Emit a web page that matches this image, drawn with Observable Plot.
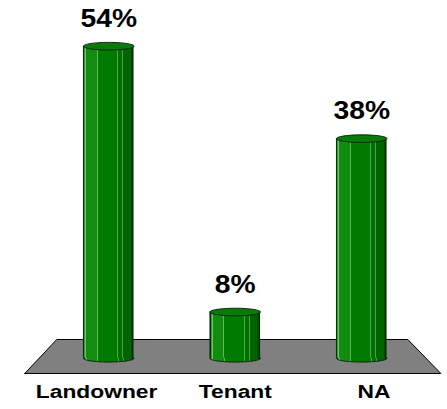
<!DOCTYPE html>
<html>
<head>
<meta charset="utf-8">
<script src="https://cdn.jsdelivr.net/npm/d3@7"></script>
<script src="https://cdn.jsdelivr.net/npm/@observablehq/plot@0.6"></script>
<style>
  body { margin: 0; background: #fff; }
</style>
</head>
<body>
<div id="chart"></div>
<script>
// Data
const categories = ["Landowner", "Tenant", "NA"];
const values = [54, 8, 38];
const valueLabels = ["54%", "8%", "38%"];

// Floor (in x-index / y-value units)
const floorX = [-0.664, -0.411, 2.364, 2.625, -0.664];
const floorY = [-2.63, 3.25, 3.25, -2.63, -2.63];

const data = categories.map((c, i) => ({ i, category: c, value: values[i], label: valueLabels[i] }));
const floor = floorX.map((x, k) => ({ x, y: floorY[k] }));

// Category labels sit under the front edge of the floor, split in equal thirds
const frontLeft = floorX[0], frontRight = floorX[3];
const labelX = i => frontLeft + (i + 0.5) * (frontRight - frontLeft) / categories.length + 0.02;

const W = 447, H = 409;
const mL = 45, mR = 22.5, mT = 11, mB = 5;
const xDomain = [-0.5, 2.5];
const barHalf = 0.2;
const rPx = barHalf * (W - mL - mR) / (xDomain[1] - xDomain[0]);

// Ellipse symbol
const ellipse = {
  draw(ctx, size) {
    const rx = Math.sqrt(size / Math.PI), ry = rx * 0.15, k = 0.5523;
    ctx.moveTo(-rx, 0);
    ctx.bezierCurveTo(-rx, -ry * k, -rx * k, -ry, 0, -ry);
    ctx.bezierCurveTo(rx * k, -ry, rx, -ry * k, rx, 0);
    ctx.bezierCurveTo(rx, ry * k, rx * k, ry, 0, ry);
    ctx.bezierCurveTo(-rx * k, ry, -rx, ry * k, -rx, 0);
    ctx.closePath();
  }
};

const font = "'Liberation Sans', Arial, Helvetica, sans-serif";

const chart = Plot.plot({
  width: W,
  height: H,
  marginLeft: mL,
  marginRight: mR,
  marginTop: mT,
  marginBottom: mB,
  x: { domain: xDomain, axis: null },
  y: { domain: [-8, 60], axis: null },
  style: { background: "#fff", fontFamily: font },
  marks: [
    Plot.line(floor, { x: "x", y: "y", fill: "#808080", stroke: "#000", strokeWidth: 1, curve: "linear" }),
    Plot.dot(data, { x: "i", y: 0, r: rPx, symbol: ellipse, fill: "url(#cyl)", stroke: "#0a2a0a", strokeWidth: 1 }),
    Plot.rectY(data, { x1: d => d.i - barHalf, x2: d => d.i + barHalf, y1: 0, y2: "value", fill: "url(#cyl)" }),
    Plot.dot(data, { x: "i", y: "value", r: rPx, symbol: ellipse, fill: "#0a7a0a", stroke: "#0a2a0a", strokeWidth: 1 }),
    Plot.text(data, { x: "i", y: "value", text: "label", dy: -27.5, fontSize: 25, fontWeight: "bold", fill: "#000", className: "stretchp" }),
    Plot.text(data, { x: d => labelX(d.i), text: "category", frameAnchor: "bottom", dy: -6.5, fontSize: 19, fontWeight: "bold", fill: "#000", className: "stretch" })
  ]
});

// Horizontal stretch of the label text (as in the reference)
function stretch(cls, s) {
  d3.select(chart).selectAll("." + cls + " text").each(function () {
    const t = this.getAttribute("transform") || "";
    this.setAttribute("transform", t + ` scale(${s},1)`);
  });
}
stretch("stretch", 1.2);
stretch("stretchp", 1.13);

// Cylinder shading gradient
const stops = [
  [0, "#0a2a0a"], [0.03, "#0a2a0a"],
  [0.03, "#2e9e2e"], [0.05, "#2e9e2e"],
  [0.05, "#6cc46c"], [0.07, "#6cc46c"],
  [0.07, "#118c11"], [0.27, "#118c11"],
  [0.27, "#5db85d"], [0.29, "#5db85d"],
  [0.29, "#007a00"], [0.68, "#007a00"],
  [0.68, "#4aa84a"], [0.70, "#4aa84a"],
  [0.70, "#007000"], [0.78, "#007000"],
  [0.78, "#4aa04a"], [0.80, "#4aa04a"],
  [0.80, "#006400"], [0.94, "#006400"],
  [0.94, "#004f00"], [0.97, "#004f00"],
  [0.97, "#0a2a0a"], [1, "#0a2a0a"]
];
const defs = d3.select(chart).insert("defs", ":first-child");
const grad = defs.append("linearGradient").attr("id", "cyl").attr("x1", "0").attr("x2", "1").attr("y1", "0").attr("y2", "0");
stops.forEach(([o, c]) => grad.append("stop").attr("offset", o).attr("stop-color", c));

document.getElementById("chart").appendChild(chart);
</script>
</body>
</html>
